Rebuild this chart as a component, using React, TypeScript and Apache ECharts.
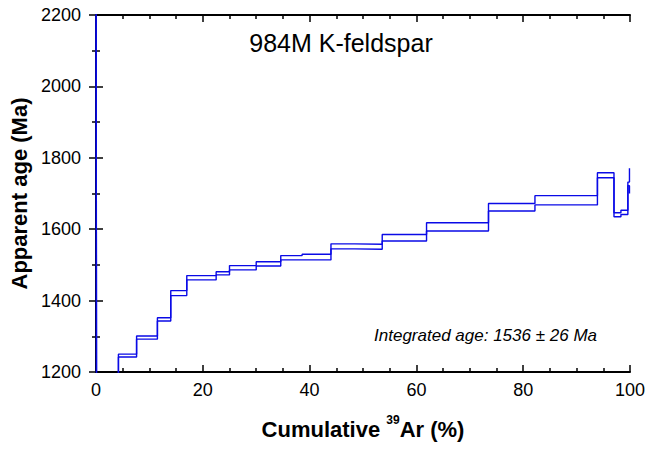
import React, { useEffect, useRef } from "react";
import * as echarts from "echarts";

// Step boundaries (cumulative 39Ar %)
const boundaries = [0, 0.1, 4.2, 7.6, 11.5, 14.0, 17.0, 22.5, 25.0, 30.0, 34.6, 38.6, 44.0, 48.4, 53.6, 61.9, 73.5, 82.2, 93.9, 97.0, 98.3, 99.6, 99.9, 100];
// Upper and lower bounds of apparent age per step (Ma)
const upperAges = [2600, 1150, 1250, 1301, 1352, 1428, 1470, 1481, 1498, 1509, 1526, 1530, 1559, 1558, 1585, 1618, 1672, 1694, 1758, 1646, 1653, 1732, 1771];
const lowerAges = [2500, 1100, 1242, 1292, 1343, 1414, 1458, 1472, 1486, 1497, 1514, 1514, 1545, 1544, 1567, 1595, 1651, 1668, 1744, 1635, 1641, 1722, 1700];

const xTicks = { min: 0, max: 100, interval: 20 };
const yTicks = { min: 1200, max: 2200, interval: 200 };

const titleText = "984M K-feldspar";
const noteText = "Integrated age: 1536 ± 26 Ma";
const FONT = "'Liberation Sans', Arial, Helvetica, sans-serif";

function stepData(vals: number[]) {
  const out: number[][] = [];
  vals.forEach((v, i) => {
    out.push([boundaries[i], v]);
    out.push([boundaries[i + 1], v]);
  });
  return out;
}

export default function App() {
  const ref = useRef<HTMLDivElement>(null);
  useEffect(() => {
    if (!ref.current) return;
    const chart = echarts.init(ref.current, null, { renderer: "svg" });
    const axisLine = { show: true, lineStyle: { color: "#000", width: 2 } };
    const tick = { show: true, inside: true, length: 7, lineStyle: { color: "#000", width: 1.5 } };
    const minor = (n: number) => ({ show: true, splitNumber: n, length: 4, lineStyle: { color: "#000", width: 1.5 } });
    const lineColor = "#0a0ae6";
    chart.setOption({
      animation: false,
      backgroundColor: "#fff",
      grid: { left: 96, right: 22, top: 15, bottom: 78, containLabel: false },
      xAxis: [
        {
          type: "value",
          position: "bottom",
          ...xTicks,
          axisLine,
          axisTick: tick,
          minorTick: minor(4),
          splitLine: { show: false },
          axisLabel: { fontSize: 18, color: "#000", margin: 9, fontFamily: FONT, formatter: (v: number) => String(v) },
          name: "{a|Cumulative }{s|39}{a|Ar (%)}",
          nameLocation: "middle",
          nameGap: 42,
          nameTextStyle: {
            rich: {
              a: { fontSize: 22, fontWeight: "bold", fontFamily: FONT, color: "#000", lineHeight: 26, verticalAlign: "bottom" },
              s: { fontSize: 12, fontWeight: "bold", fontFamily: FONT, color: "#000", lineHeight: 26, verticalAlign: "top" },
            },
          },
        },
        {
          type: "value",
          position: "top",
          ...xTicks,
          axisLine,
          axisTick: tick,
          minorTick: minor(4),
          splitLine: { show: false },
          axisLabel: { show: false },
        },
      ],
      yAxis: [
        {
          type: "value",
          position: "left",
          ...yTicks,
          axisLine,
          axisTick: tick,
          minorTick: minor(2),
          splitLine: { show: false },
          axisLabel: { fontSize: 18, color: "#000", margin: 15, fontFamily: FONT, formatter: (v: number) => String(v) },
          name: "Apparent age (Ma)",
          nameLocation: "middle",
          nameGap: 65,
          nameTextStyle: { fontSize: 22, fontWeight: "bold", fontFamily: FONT, color: "#000" },
        },
        {
          type: "value",
          position: "right",
          ...yTicks,
          axisLine,
          axisTick: tick,
          minorTick: minor(2),
          splitLine: { show: false },
          axisLabel: { show: false },
        },
      ],
      series: [
        {
          type: "line",
          data: stepData(upperAges),
          showSymbol: false,
          clip: true,
          lineStyle: { color: lineColor, width: 1.4 },
          xAxisIndex: 0,
          yAxisIndex: 0,
        },
        {
          type: "line",
          data: stepData(lowerAges),
          showSymbol: false,
          clip: true,
          lineStyle: { color: lineColor, width: 1.4 },
          xAxisIndex: 0,
          yAxisIndex: 0,
        },
      ],
      graphic: [
        {
          type: "text",
          x: 341,
          y: 43,
          style: { text: titleText, fontSize: 25, fontFamily: FONT, fill: "#000", textAlign: "center", textVerticalAlign: "middle" },
        },
        {
          type: "text",
          x: 597,
          y: 335,
          style: { text: noteText, fontSize: 17, fontStyle: "italic", fontFamily: FONT, fill: "#000", textAlign: "right", textVerticalAlign: "middle" },
        },
      ],
    });
    return () => chart.dispose();
  }, []);
  return <div ref={ref} style={{ position: "fixed", left: 0, top: 0, width: 652, height: 450 }} />;
}
